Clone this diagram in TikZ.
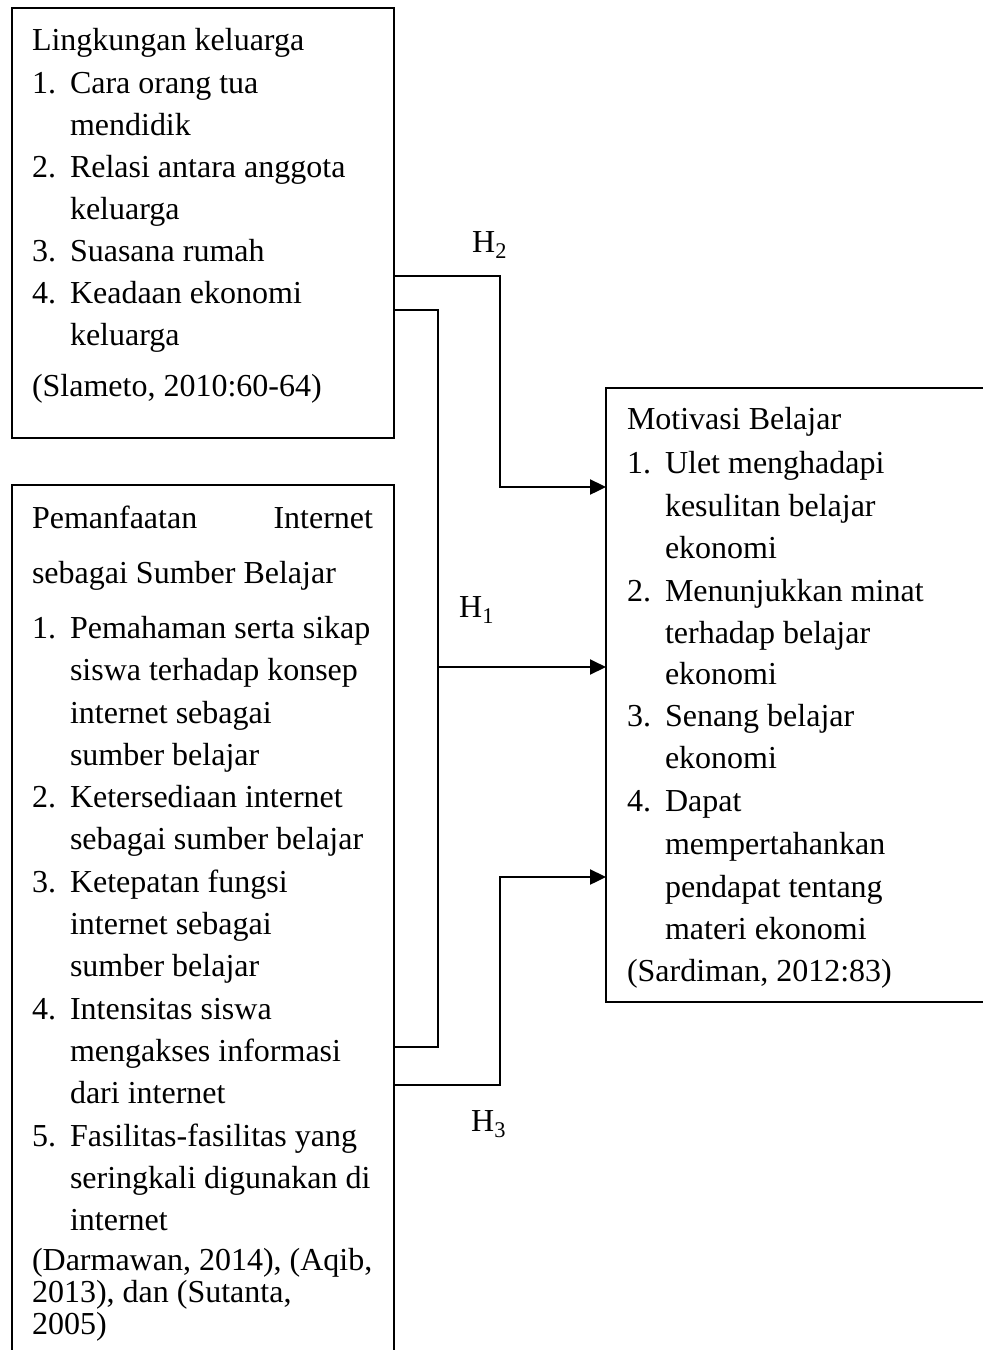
\documentclass[tikz,border=0pt]{standalone}
\usepackage{fontspec}
\setmainfont{Liberation Serif}
\usetikzlibrary{arrows.meta}
\tikzset{
  box/.style={draw=black, line width=2pt, anchor=north west, inner sep=0pt, outer sep=0pt},
  txt/.style={anchor=base west, inner sep=0pt, outer sep=0pt, font=\fontsize{32}{38}\selectfont},
  hlab/.style={anchor=base west, inner sep=0pt, font=\fontsize{32}{38}\selectfont},
  conn/.style={draw=black, line width=2.4pt},
  arr/.style={conn, -{Triangle[length=16pt,width=15pt]}}
}
\begin{document}
\begin{tikzpicture}[x=1pt,y=-1pt]
\useasboundingbox (0,0) rectangle (983,1350);
% boxes
\node[box, minimum width=382pt, minimum height=430pt] (b1) at (12,8) {};
\node[box, minimum width=382pt, minimum height=880pt] (b2) at (12,485) {};
\node[box, minimum width=400pt, minimum height=614pt] (b3) at (606,388) {};
% box 1 text
\node[txt] (a0) at (32,50) {Lingkungan keluarga};
\node[txt] (a1n) at (32,93) {1.};  \node[txt] (a1) at (70,93) {Cara orang tua};
\node[txt] (a1b) at (70,135) {mendidik};
\node[txt] (a2n) at (32,177) {2.}; \node[txt] (a2) at (70,177) {Relasi antara anggota};
\node[txt] (a2b) at (70,219) {keluarga};
\node[txt] (a3n) at (32,261) {3.}; \node[txt] (a3) at (70,261) {Suasana rumah};
\node[txt] (a4n) at (32,303) {4.}; \node[txt] (a4) at (70,303) {Keadaan ekonomi};
\node[txt] (a4b) at (70,345) {keluarga};
\node[txt] (ac) at (32,396) {(Slameto, 2010:60-64)};
% box 2 text
\node[txt] (p0) at (32,528) {\makebox[341pt][s]{Pemanfaatan\hfill Internet}};
\node[txt] (p0b) at (32,583) {sebagai Sumber Belajar};
\node[txt] (p1n) at (32,638) {1.}; \node[txt] (p1) at (70,638) {Pemahaman serta sikap};
\node[txt] (p1b) at (70,680) {siswa terhadap konsep};
\node[txt] (p1c) at (70,723) {internet sebagai};
\node[txt] (p1d) at (70,765) {sumber belajar};
\node[txt] (p2n) at (32,807) {2.}; \node[txt] (p2) at (70,807) {Ketersediaan internet};
\node[txt] (p2b) at (70,849) {sebagai sumber belajar};
\node[txt] (p3n) at (32,892) {3.}; \node[txt] (p3) at (70,892) {Ketepatan fungsi};
\node[txt] (p3b) at (70,934) {internet sebagai};
\node[txt] (p3c) at (70,976) {sumber belajar};
\node[txt] (p4n) at (32,1019) {4.}; \node[txt] (p4) at (70,1019) {Intensitas siswa};
\node[txt] (p4b) at (70,1061) {mengakses informasi};
\node[txt] (p4c) at (70,1103) {dari internet};
\node[txt] (p5n) at (32,1146) {5.}; \node[txt] (p5) at (70,1146) {Fasilitas-fasilitas yang};
\node[txt] (p5b) at (70,1188) {seringkali digunakan di};
\node[txt] (p5c) at (70,1230) {internet};
\node[txt] (pc1) at (32,1270) {(Darmawan, 2014), (Aqib,};
\node[txt] (pc2) at (32,1302) {2013), dan (Sutanta,};
\node[txt] (pc3) at (32,1334) {2005)};
% box 3 text
\node[txt] (m0) at (627,429) {Motivasi Belajar};
\node[txt] (m1n) at (627,473) {1.}; \node[txt] (m1) at (665,473) {Ulet menghadapi};
\node[txt] (m1b) at (665,516) {kesulitan belajar};
\node[txt] (m1c) at (665,558) {ekonomi};
\node[txt] (m2n) at (627,601) {2.}; \node[txt] (m2) at (665,601) {Menunjukkan minat};
\node[txt] (m2b) at (665,643) {terhadap belajar};
\node[txt] (m2c) at (665,684) {ekonomi};
\node[txt] (m3n) at (627,726) {3.}; \node[txt] (m3) at (665,726) {Senang belajar};
\node[txt] (m3b) at (665,768) {ekonomi};
\node[txt] (m4n) at (627,811) {4.}; \node[txt] (m4) at (665,811) {Dapat};
\node[txt] (m4b) at (665,854) {mempertahankan};
\node[txt] (m4c) at (665,897) {pendapat tentang};
\node[txt] (m4d) at (665,939) {materi ekonomi};
\node[txt] (mc) at (627,981) {(Sardiman, 2012:83)};
% connector anchor points
\coordinate (h2a) at ([yshift=-268pt]b1.north east);
\coordinate (h2b) at ([yshift=-99pt]b3.north west);
\coordinate (h1a) at ([yshift=-302pt]b1.north east);
\coordinate (h1b) at ([yshift=-562pt]b2.north west -| b2.east);
\coordinate (h1m) at (438,667);
\coordinate (h3a) at ([yshift=-600pt]b2.north west -| b2.east);
\coordinate (h3b) at ([yshift=-489pt]b3.north west);
% connectors
\draw[arr] (h2a) -- ++(106,0) |- (h2b);
\draw[conn, line width=2pt] (h1a) -- ++(44,0) |- (h1b);
\draw[arr, line width=2pt] (h1m) -- (h1m -| b3.west);
\draw[arr] (h3a) -- ++(106,0) |- (h3b);
% labels
\node[hlab] (l2) at (472,252) {H\textsubscript{2}};
\node[hlab] (l1) at (459,617) {H\textsubscript{1}};
\node[hlab] (l3) at (471,1131) {H\textsubscript{3}};
\end{tikzpicture}
\end{document}
